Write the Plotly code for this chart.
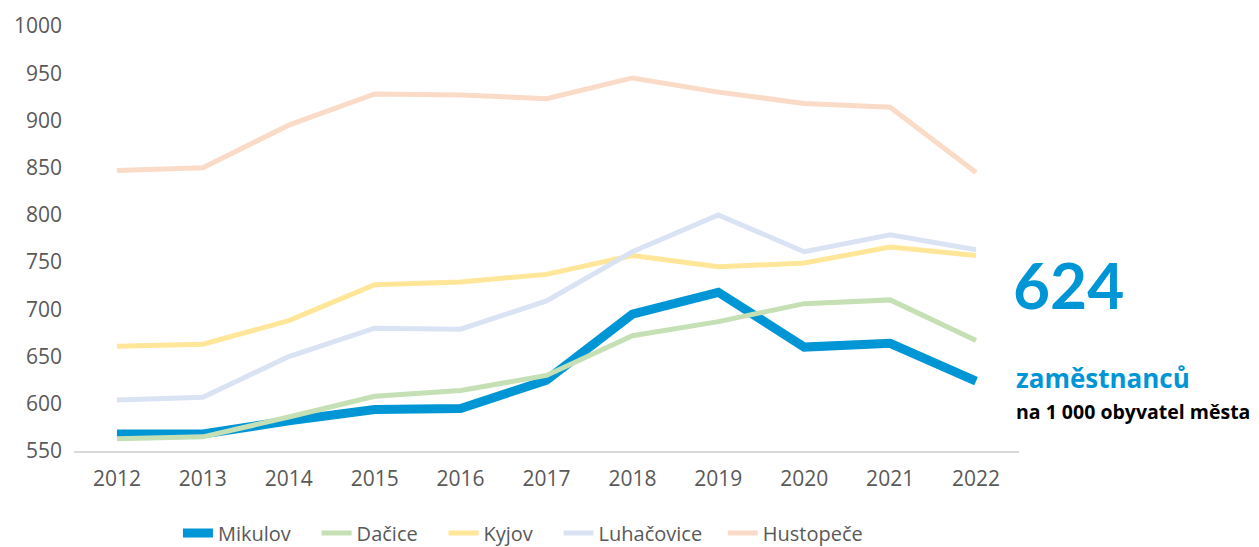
import plotly.graph_objects as go

years = ["2012", "2013", "2014", "2015", "2016", "2017", "2018", "2019", "2020", "2021", "2022"]
mikulov = [568, 568, 582, 594, 595, 625, 695, 718, 660, 664, 624]
dacice = [563, 565, 586, 608, 614, 630, 672, 687, 706, 710, 667]
kyjov = [661, 663, 688, 726, 729, 737, 757, 745, 749, 766, 757]
luhacovice = [604, 607, 650, 680, 679, 709, 761, 800, 761, 779, 763]
hustopece = [847, 850, 895, 928, 927, 923, 945, 930, 918, 914, 845]
y_ticks = [550, 600, 650, 700, 750, 800, 850, 900, 950, 1000]
y_tick_text = [("\u2007" if v < 1000 else "") + str(v) for v in y_ticks]

series = [
    ("Mikulov", mikulov, "#0096D6", 9),
    ("Dačice", dacice, "#C5E0B4", 5),
    ("Kyjov", kyjov, "#FFE699", 5),
    ("Luhačovice", luhacovice, "#DAE3F3", 5),
    ("Hustopeče", hustopece, "#FADBC8", 5),
]
pads = [4, 4, 4, 3, 0]  # trailing spacing after legend labels

fig = go.Figure()
for (name, vals, col, w), p in zip(series, pads):
    fig.add_trace(go.Scatter(x=years, y=vals, name=name + "\u00a0" * p, mode="lines",
                             line=dict(color=col, width=w)))

fig.update_layout(
    width=1259, height=547,
    margin=dict(l=74, r=240, t=26, b=96, autoexpand=False),
    paper_bgcolor="white", plot_bgcolor="white",
    font=dict(family="Open Sans", size=21, color="#595959"),
    showlegend=True,
    legend=dict(orientation="h", x=0.110, xanchor="left", y=-0.193, yanchor="middle",
                font=dict(size=20, color="#595959"), traceorder="normal",
                itemwidth=30, tracegroupgap=0),
    xaxis=dict(type="category", range=[-0.5, 10.5], showgrid=False, showline=True,
               linecolor="#D9D9D9", linewidth=1.5, ticks="", zeroline=False,
               ticklabelstandoff=8,
               tickfont=dict(size=21, color="#595959")),
    yaxis=dict(range=[550, 1000], tickvals=y_ticks, ticktext=y_tick_text,
               showgrid=False, showline=False,
               zeroline=False, ticks="", ticklabelstandoff=11,
               tickfont=dict(size=21, color="#595959")),
)

fig.add_annotation(text="<b>624</b>", xref="paper", yref="paper", x=0.9915, y=0.392,
                   xanchor="left", yanchor="middle", showarrow=False,
                   font=dict(family="Lato", size=64, color="#0096D6"))
fig.add_annotation(text="<b>zaměstnanců</b>", xref="paper", yref="paper", x=0.9947, y=0.172,
                   xanchor="left", yanchor="middle", showarrow=False,
                   font=dict(family="Open Sans", size=26, color="#0096D6"))
fig.add_annotation(text="<b>na 1 000 obyvatel města</b>", xref="paper", yref="paper", x=0.9947, y=0.092,
                   xanchor="left", yanchor="middle", showarrow=False,
                   font=dict(family="Open Sans", size=19.5, color="#000000"))

fig.write_html("out.html", config={"displayModeBar": False},
               post_script="document.body.style.margin='0';")
